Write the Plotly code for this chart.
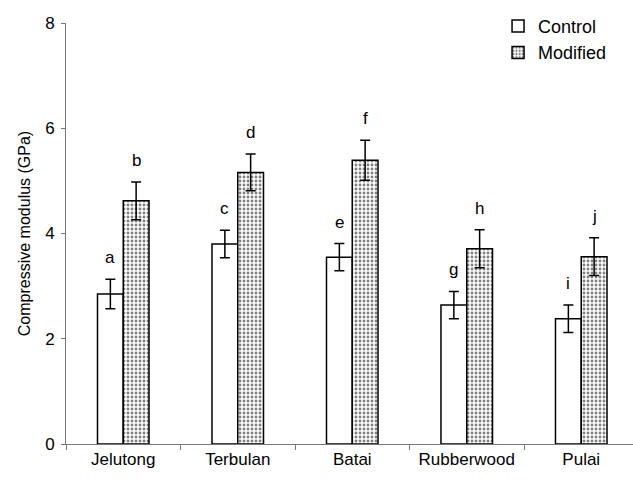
import plotly.graph_objects as go

# Wood species and mean compressive modulus (GPa) with standard deviations
species = ["Jelutong", "Terbulan", "Batai", "Rubberwood", "Pulai"]
control_mean = [2.85, 3.80, 3.55, 2.64, 2.38]
control_sd = [0.28, 0.26, 0.26, 0.26, 0.26]
modified_mean = [4.62, 5.16, 5.39, 3.71, 3.56]
modified_sd = [0.36, 0.35, 0.38, 0.36, 0.36]
control_letters = ["a", "c", "e", "g", "i"]
modified_letters = ["b", "d", "f", "h", "j"]

FONT = "Liberation Sans, Arial, sans-serif"
BAR_GAP = 0.55
HALF_BAR = (1 - BAR_GAP) / 4  # centre offset of each bar within its group

fig = go.Figure()
fig.add_trace(go.Bar(
    name="Control", x=species, y=control_mean,
    marker=dict(color="white", line=dict(color="black", width=1.5)),
    error_y=dict(type="data", array=control_sd, color="black", thickness=1.5, width=5),
))
fig.add_trace(go.Bar(
    name="Modified", x=species, y=modified_mean,
    marker=dict(color="white", line=dict(color="black", width=1.5),
                pattern=dict(shape=".", fgcolor="black", bgcolor="white",
                             size=4, solidity=0.4)),
    error_y=dict(type="data", array=modified_sd, color="black", thickness=1.5, width=5),
))

# Significance letters above each error bar
for i in range(len(species)):
    for off, m, s, t in ((-HALF_BAR, control_mean[i], control_sd[i], control_letters[i]),
                         (HALF_BAR, modified_mean[i], modified_sd[i], modified_letters[i])):
        fig.add_annotation(x=i + off, y=m + s, xref="x", yref="y", text=t,
                           showarrow=False, yanchor="bottom", yshift=10,
                           font=dict(family=FONT, size=17, color="black"))

fig.update_layout(
    width=633, height=483,
    margin=dict(l=66, r=0, t=23, b=39),
    paper_bgcolor="white", plot_bgcolor="white",
    barmode="group", bargap=BAR_GAP, bargroupgap=0,
    font=dict(family=FONT, size=16, color="black"),
    showlegend=True,
    legend=dict(x=0.762, y=1.036, xanchor="left", yanchor="top",
                bgcolor="rgba(0,0,0,0)", font=dict(size=18), itemwidth=30),
    xaxis=dict(range=[-0.5, 4.452], showline=True, linecolor="#777777", linewidth=1,
               ticks="outside", tickson="boundaries", ticklen=5, tickcolor="#777777",
               tickfont=dict(size=17), showgrid=False, zeroline=False),
    yaxis=dict(range=[0, 8], tickvals=[0, 2, 4, 6, 8], showline=True,
               linecolor="#777777", linewidth=1, ticks="outside", ticklen=4,
               tickcolor="#777777", tickfont=dict(size=17), ticklabelstandoff=3,
               showgrid=False, zeroline=False,
               title=dict(text="Compressive modulus (GPa)", font=dict(size=16), standoff=10)),
)

fig.write_html("out.html")
